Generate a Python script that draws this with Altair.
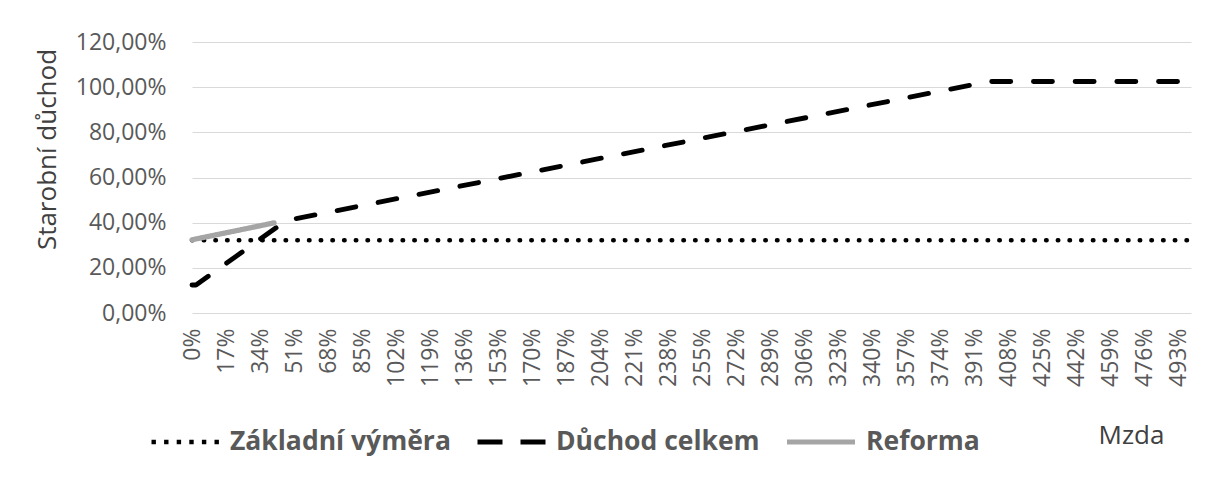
import altair as alt
import pandas as pd

# Series (x = Mzda in %, y = Starobní důchod in %)
series_names = ["Základní výměra", "Důchod celkem", "Reforma"]

zakladni_x = [0, 499]
zakladni_y = [32.2, 32.2]

duchod_x = [0, 2, 47, 398, 499]
duchod_y = [12.4, 12.4, 40.9, 102.5, 102.5]

reforma_x = [0, 41]
reforma_y = [32.4, 39.9]

x_tick_values = list(range(0, 494, 17))
y_tick_values = [0, 20, 40, 60, 80, 100, 120]

rows = []
for name, xs, ys in [
    (series_names[0], zakladni_x, zakladni_y),
    (series_names[1], duchod_x, duchod_y),
    (series_names[2], reforma_x, reforma_y),
]:
    for i, (xv, yv) in enumerate(zip(xs, ys)):
        rows.append({"serie": name, "mzda": xv, "duchod": yv, "poradi": i})
df = pd.DataFrame(rows)

FONT = "Open Sans"
COLORS = ["#000000", "#000000", "#A5A5A5"]
WIDTHS = [4.5, 5.2, 7]

x_enc = alt.X(
    "mzda:Q",
    scale=alt.Scale(domain=[0, 499], nice=False, zero=False),
    axis=alt.Axis(
        values=x_tick_values,
        labelExpr="datum.value + '%'",
        labelAngle=270,
        labelAlign="right",
        labelBaseline="middle",
        labelPadding=15,
        labelFont=FONT,
        labelFontSize=23,
        labelColor="#595959",
        labelOverlap=False,
        labelFlush=False,
        grid=False,
        ticks=False,
        domain=False,
        title="Mzda",
        titleFont=FONT,
        titleFontSize=26,
        titleFontWeight="normal",
        titleColor="#404040",
        titleX=939,
        titleY=130,
        titleAlign="center",
        titleBaseline="alphabetic",
    ),
)

y_enc = alt.Y(
    "duchod:Q",
    scale=alt.Scale(domain=[0, 120], nice=False),
    axis=alt.Axis(
        values=y_tick_values,
        labelExpr="replace(format(datum.value, '.2f'), '.', ',') + '%'",
        labelPadding=26,
        labelFont=FONT,
        labelFontSize=23,
        labelColor="#595959",
        ticks=False,
        domain=False,
        grid=True,
        gridColor="#D9D9D9",
        gridWidth=1.2,
        title="Starobní důchod",
        titleFont=FONT,
        titleFontSize=26,
        titleFontWeight="normal",
        titleColor="#404040",
        titleAngle=270,
        titleX=-145,
        titleY=107,
        titleAlign="center",
        titleBaseline="middle",
    ),
)

legend = alt.Legend(
    title=None,
    orient="none",
    legendX=-43,
    legendY=385,
    direction="horizontal",
    symbolType="stroke",
    symbolSize=4624,
    clipHeight=30,
    labelFont=FONT,
    labelFontSize=26.5,
    labelFontWeight="bold",
    labelColor="#595959",
    labelOffset=8,
    labelLimit=400,
    columnPadding=24,
)

# visible lines (round caps), no legend
lines = (
    alt.Chart(df)
    .mark_line(strokeCap="round", strokeJoin="round")
    .encode(
        x=x_enc,
        y=y_enc,
        color=alt.Color("serie:N", scale=alt.Scale(domain=series_names, range=COLORS), legend=None),
        strokeDash=alt.StrokeDash(
            "serie:N",
            scale=alt.Scale(domain=series_names, range=[[0.5, 11.2], [19, 22.7], [1, 0]]),
            legend=None,
        ),
        strokeWidth=alt.StrokeWidth(
            "serie:N", scale=alt.Scale(domain=series_names, range=WIDTHS), legend=None
        ),
        order="poradi:Q",
        detail="serie:N",
    )
)

# legend-only layer (legend symbols use butt caps, so dash patterns differ)
legend_layer = (
    alt.Chart(df)
    .transform_filter("false")
    .mark_line()
    .encode(
        x=x_enc,
        y=y_enc,
        color=alt.Color("serie:N", scale=alt.Scale(domain=series_names, range=COLORS), legend=legend),
        strokeDash=alt.StrokeDash(
            "serie:N",
            scale=alt.Scale(domain=series_names, range=[[4.4, 8.2], [25, 18], [1, 0]]),
            legend=legend,
        ),
        strokeWidth=alt.StrokeWidth(
            "serie:N", scale=alt.Scale(domain=series_names, range=WIDTHS), legend=legend
        ),
    )
)

chart = (
    alt.layer(lines, legend_layer)
    .resolve_scale(color="independent", strokeDash="independent", strokeWidth="independent")
    .resolve_legend(color="independent", strokeDash="independent", strokeWidth="independent")
    .properties(
        width=999,
        height=271,
        autosize=alt.AutoSizeParams(type="none"),
        padding={"left": 184, "top": 34, "right": 10, "bottom": 155},
    )
    .configure_view(stroke=None)
)

chart.save("out.html", embed_options={"renderer": "svg", "actions": False})
